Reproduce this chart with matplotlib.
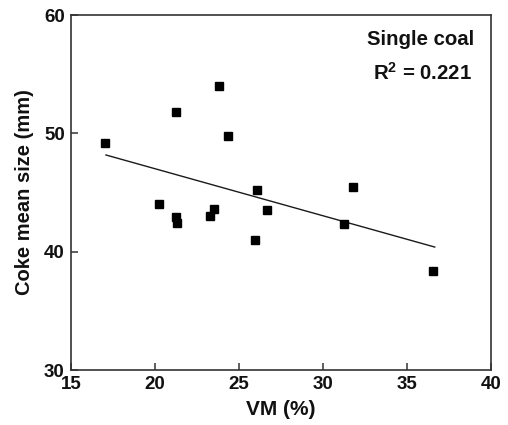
import matplotlib
matplotlib.use("Agg")
import matplotlib.pyplot as plt

plt.rcParams['font.family'] = ['Liberation Sans', 'DejaVu Sans']
plt.rcParams['font.weight'] = 'bold'
plt.rcParams['mathtext.fontset'] = 'custom'
plt.rcParams['mathtext.bf'] = 'Liberation Sans:bold'
plt.rcParams['mathtext.rm'] = 'Liberation Sans:bold'

# data
vm = [17.0, 21.25, 23.83, 24.35, 26.05, 31.77, 20.24, 21.25, 21.29,
      23.29, 23.49, 26.67, 25.95, 31.25, 36.57]
size_mm = [49.2, 51.8, 54.0, 49.8, 45.2, 45.5, 44.0, 42.9, 42.4,
           43.0, 43.6, 43.5, 41.0, 42.3, 38.4]
fit_x = [17.08, 36.65]
fit_y = [48.17, 40.39]
xticks = [15, 20, 25, 30, 35, 40]
yticks = [30, 40, 50, 60]

fig = plt.figure(figsize=(5.08, 4.25), dpi=100)
ax = fig.add_axes([0.1398, 0.1294, 0.8268, 0.8353])

ax.plot(fit_x, fit_y, color='#1a1a1a', lw=1.0)
ax.plot(vm, size_mm, 's', color='black', ms=5.5)

ax.set_xlim(15, 40); ax.set_ylim(30, 60)
ax.set_xticks(xticks); ax.set_yticks(yticks)
ax.tick_params(direction='in', length=5, width=1.1, labelsize=13.5, pad=4.5,
               color='#333333', labelcolor='#111111')
for lbl in ax.get_xticklabels() + ax.get_yticklabels():
    lbl.set_fontweight('bold')
for s in ax.spines.values():
    s.set_linewidth(1.2); s.set_color('#333333')

ax.set_xlabel('VM (%)', fontsize=15, fontweight='bold', labelpad=5, color='#111111')
ax.set_ylabel('Coke mean size (mm)', fontsize=14.5, fontweight='bold', labelpad=7, color='#111111')

ax.text(0.9595, 0.9155, 'Single coal', transform=ax.transAxes, ha='right', va='baseline',
        fontsize=14.7, fontweight='bold', color='#111111')
ax.text(0.955, 0.8169, r'R$^\mathbf{2}$ = 0.221', transform=ax.transAxes, ha='right', va='baseline',
        fontsize=14.7, fontweight='bold', color='#111111')

fig.savefig('out.png', dpi=100)
